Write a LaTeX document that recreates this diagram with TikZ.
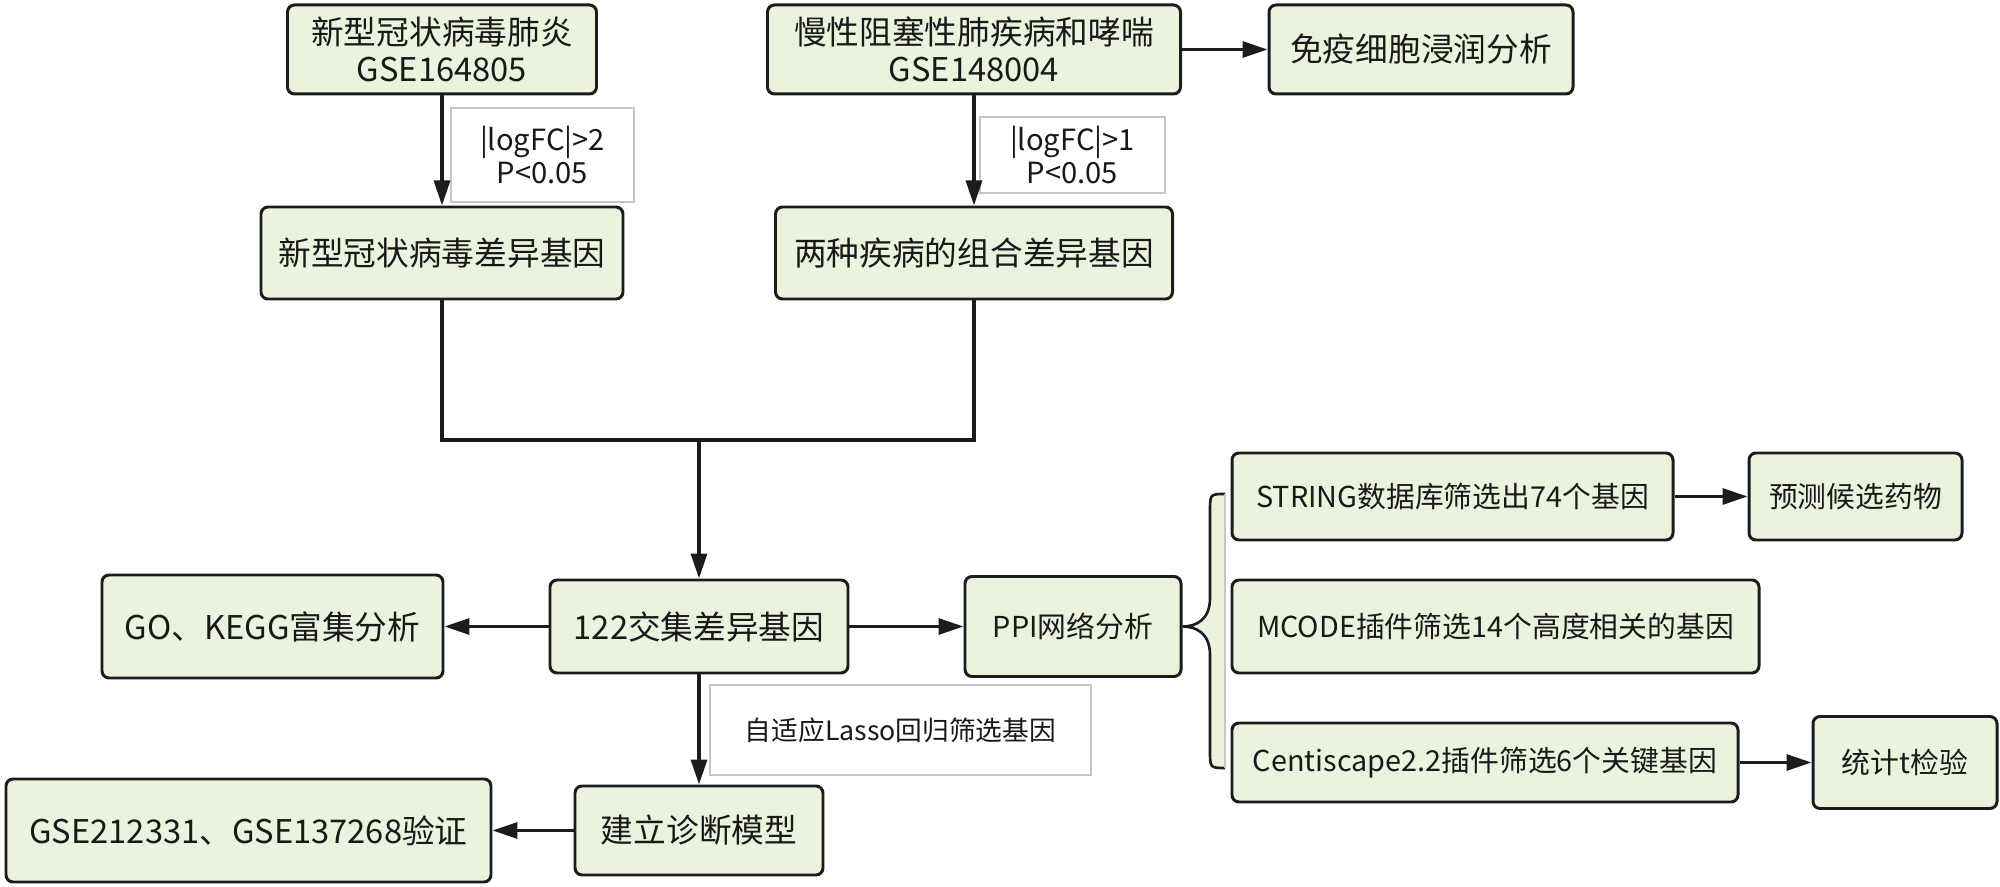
\documentclass[tikz,border=0pt]{standalone}
\usepackage{fontspec}
\setmainfont{Noto Sans CJK SC}
\usetikzlibrary{arrows.meta}
\definecolor{boxfill}{RGB}{235,243,223}
\definecolor{boxline}{RGB}{28,28,28}
\begin{document}
\begin{tikzpicture}[x=1mm,y=-1mm,font=\fontsize{9.3}{10.6}\selectfont,
  box/.style={draw=boxline,fill=boxfill,line width=0.85pt,rounded corners=0.7mm,inner sep=0pt,align=center,text=black!90},
  small/.style={font=\fontsize{8.2}{9.8}\selectfont},
  lbl/.style={draw=gray!45,fill=white,line width=0.35pt,inner sep=0pt,align=center,text=black!90,font=\fontsize{8.3}{9.4}\selectfont},
  arr/.style={draw=boxline,line width=0.9pt,-{Triangle[length=2.5mm,width=1.6mm]}},
  link/.style={draw=boxline,line width=0.9pt}]
\useasboundingbox (0,0) rectangle (200,88.7);
\node[box,minimum width=30.9mm,minimum height=8.9mm] (covid) at (44.2,4.95) {新型冠状病毒肺炎\\GSE164805};
\node[box,minimum width=41.3mm,minimum height=8.9mm] (copd) at (97.4,4.95) {慢性阻塞性肺疾病和哮喘\\GSE148004};
\node[box,minimum width=30.4mm,minimum height=8.9mm] (immune) at (142.1,4.95) {免疫细胞浸润分析};
\node[lbl,minimum width=18.3mm,minimum height=9.4mm] (lfc2) at (54.25,15.5) {|logFC|>2\\P<0.05};
\node[lbl,minimum width=18.5mm,minimum height=7.6mm] (lfc1) at (107.25,15.5) {|logFC|>1\\P<0.05};
\node[box,minimum width=36.2mm,minimum height=9.2mm] (covidDEG) at (44.2,25.3) {新型冠状病毒差异基因};
\node[box,minimum width=39.7mm,minimum height=9.2mm] (comboDEG) at (97.4,25.3) {两种疾病的组合差异基因};
\coordinate (join) at (69.9,44);
\node[box,minimum width=29.8mm,minimum height=9.3mm] (inter) at (69.9,62.65) {122交集差异基因};
\node[box,minimum width=34.1mm,minimum height=10.3mm] (goKegg) at (27.25,62.65) {GO、KEGG富集分析};
\node[box,small,minimum width=21.6mm,minimum height=10mm] (ppi) at (107.3,62.65) {PPI网络分析};
\node[lbl,font=\fontsize{7.6}{9}\selectfont,minimum width=38.1mm,minimum height=9mm] (lasso) at (90.05,73) {自适应Lasso回归筛选基因};
\node[box,minimum width=24.8mm,minimum height=8.9mm] (model) at (69.9,83.05) {建立诊断模型};
\node[box,minimum width=48.5mm,minimum height=10.3mm] (valid) at (24.85,83.05) {GSE212331、GSE137268验证};
\node[box,small,minimum width=44.1mm,minimum height=8.7mm] (string) at (145.25,49.65) {STRING数据库筛选出74个基因};
\node[box,small,minimum width=21.3mm,minimum height=8.7mm] (drug) at (185.55,49.65) {预测候选药物};
\node[box,small,minimum width=52.7mm,minimum height=9.3mm] (mcode) at (149.55,62.65) {MCODE插件筛选14个高度相关的基因};
\node[box,small,minimum width=50.6mm,minimum height=7.9mm] (centi) at (148.5,76.25) {Centiscape2.2插件筛选6个关键基因};
\node[box,small,minimum width=18.4mm,minimum height=9.2mm] (ttest) at (190.5,76.25) {统计t检验};
\draw[arr] (covid) -- (covidDEG);
\draw[arr] (copd) -- (comboDEG);
\draw[arr] (copd) -- (immune);
\draw[link] (covidDEG.south) |- (join) -| (comboDEG.south);
\draw[arr] (join) -- (inter);
\draw[arr] (inter) -- (goKegg);
\draw[arr] (inter) -- (ppi);
\draw[arr] (inter) -- (model);
\draw[arr] (model) -- (valid);
\draw[arr] (string) -- (drug);
\draw[arr] (centi) -- (ttest);
\fill[boxfill] (122.5,49.4) .. controls (121,49.4) .. (121,51.2) -- (121,59.8) .. controls (121,62) and (119.6,62.65) .. (ppi.east) .. controls (119.6,62.65) and (121,63.3) .. (121,65.5) -- (121,75) .. controls (121,76.8) .. (122.5,76.8) -- cycle;
\draw[boxline,line width=0.75pt] (122.5,49.4) .. controls (121,49.4) .. (121,51.2) -- (121,59.8) .. controls (121,62) and (119.6,62.65) .. (ppi.east) .. controls (119.6,62.65) and (121,63.3) .. (121,65.5) -- (121,75) .. controls (121,76.8) .. (122.5,76.8);
\draw[gray!45,line width=0.35pt] (122.5,49.4) -- (122.5,76.8);
\end{tikzpicture}
\end{document}
